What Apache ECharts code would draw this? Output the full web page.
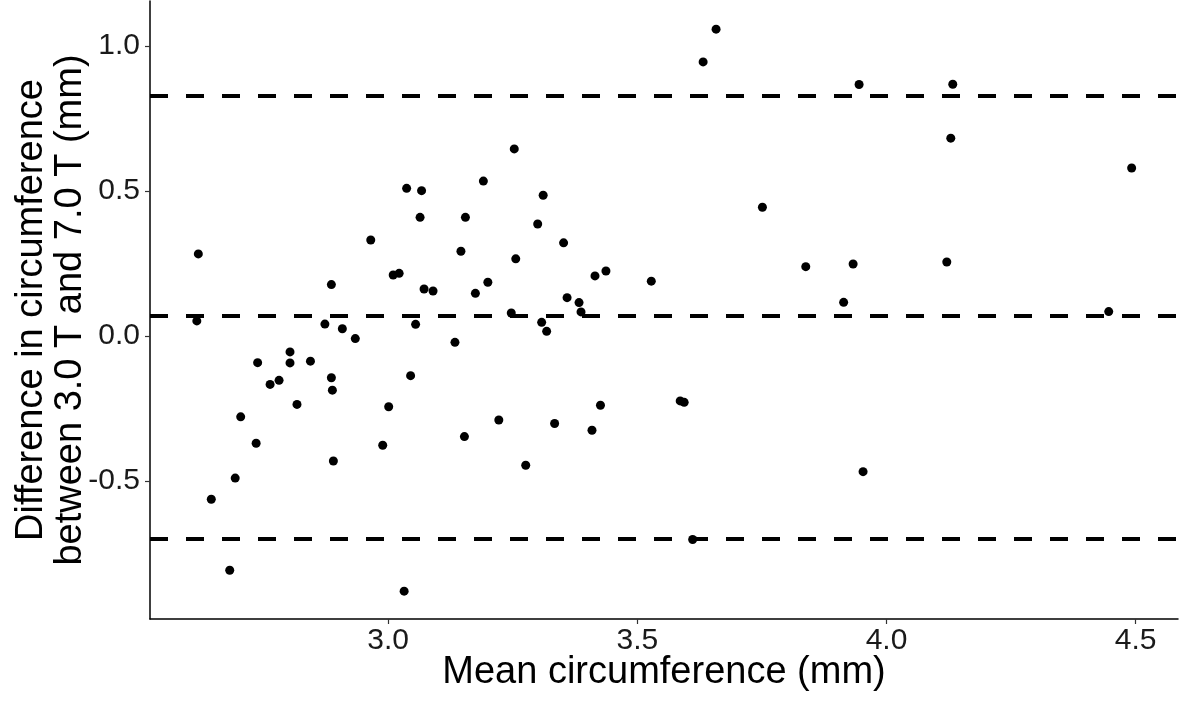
<!DOCTYPE html>
<html>
<head>
<meta charset="utf-8">
<script src="https://cdn.jsdelivr.net/npm/echarts@6/dist/echarts.min.js"></script>
<style>
  html, body { margin: 0; padding: 0; background: #ffffff; }
  #chart { width: 1181px; height: 703px; }
</style>
</head>
<body>
<div id="chart"></div>
<script>
// Mean circumference (mm)
const meanCirc = [
  2.619, 2.616, 2.645, 2.693, 2.682, 2.704, 2.735, 2.738, 2.763, 2.781,
  2.803, 2.803, 2.817, 2.844, 2.873, 2.886, 2.886, 2.888, 2.890, 2.908,
  2.934, 2.965, 2.989, 3.001, 3.010, 3.022, 3.032, 3.037, 3.045, 3.055,
  3.067, 3.064, 3.072, 3.090, 3.134, 3.146, 3.153, 3.155, 3.175, 3.191,
  3.200, 3.222, 3.247, 3.253, 3.256, 3.276, 3.300, 3.308, 3.311, 3.318,
  3.334, 3.352, 3.359, 3.383, 3.387, 3.409, 3.415, 3.426, 3.437, 3.528,
  3.586, 3.594, 3.611, 3.632, 3.658, 3.751, 3.838, 3.914, 3.933, 3.945,
  3.953, 4.121, 4.129, 4.133, 4.446, 4.492
];
// Difference in circumference between 3.0 T and 7.0 T (mm)
const diffCirc = [
  0.283, 0.052, -0.563, -0.490, -0.808, -0.279, -0.370, -0.092, -0.167, -0.153,
  -0.055, -0.093, -0.236, -0.087, 0.041, 0.177, -0.144, -0.187, -0.431, 0.025,
  -0.009, 0.331, -0.377, -0.244, 0.210, 0.216, -0.880, 0.509, -0.137, 0.040,
  0.501, 0.409, 0.162, 0.155, -0.022, 0.292, -0.347, 0.409, 0.147, 0.534,
  0.185, -0.290, 0.079, 0.645, 0.266, -0.446, 0.386, 0.047, 0.485, 0.016,
  -0.302, 0.321, 0.132, 0.115, 0.083, -0.325, 0.207, -0.239, 0.224, 0.189,
  -0.224, -0.229, -0.702, 0.945, 1.058, 0.444, 0.239, 0.116, 0.248, 0.867,
  -0.468, 0.255, 0.682, 0.868, 0.084, 0.579
];
// Upper limit of agreement, mean difference, lower limit of agreement
const agreementLines = [0.831, 0.065, -0.702];
const xTicks = [3.0, 3.5, 4.0, 4.5];
const yTicks = [-0.5, 0.0, 0.5, 1.0];

const points = meanCirc.map((x, i) => [x, diffCirc[i]]);

const chart = echarts.init(document.getElementById('chart'), null, { renderer: 'canvas' });
const FONT = '"Liberation Sans", Arial, sans-serif';

chart.setOption({
  animation: false,
  backgroundColor: '#ffffff',
  grid: { left: 150, right: 3, top: 1, bottom: 84, containLabel: false, outerBoundsMode: 'none' },
  xAxis: {
    type: 'value',
    min: 2.522,
    max: 4.585,
    name: 'Mean circumference (mm)',
    nameLocation: 'middle',
    nameGap: 35,
    nameMoveOverlap: false,
    nameTextStyle: { fontFamily: FONT, fontSize: 38, color: '#000000' },
    axisLine: { show: true, onZero: false, lineStyle: { color: '#000000', width: 1.5 } },
    axisTick: { show: true, length: 5, customValues: xTicks, lineStyle: { color: '#333333', width: 1.2 } },
    axisLabel: {
      customValues: xTicks,
      margin: 7,
      fontFamily: FONT,
      fontSize: 30,
      color: '#1a1a1a',
      formatter: v => v.toFixed(1)
    },
    splitLine: { show: false }
  },
  yAxis: {
    type: 'value',
    min: -0.976,
    max: 1.155,
    name: 'Difference in circumference\nbetween 3.0 T and 7.0 T (mm)',
    nameLocation: 'middle',
    nameRotate: 90,
    nameGap: 60,
    nameMoveOverlap: false,
    nameTextStyle: { fontFamily: FONT, fontSize: 38, color: '#000000', lineHeight: 39, align: 'center' },
    axisLine: { show: true, lineStyle: { color: '#000000', width: 1.5 } },
    axisTick: { show: true, length: 5, customValues: yTicks, lineStyle: { color: '#333333', width: 1.2 } },
    axisLabel: {
      customValues: yTicks,
      margin: 10,
      fontFamily: FONT,
      fontSize: 30,
      color: '#1a1a1a',
      formatter: v => v.toFixed(1)
    },
    splitLine: { show: false }
  },
  series: [
    {
      type: 'scatter',
      data: points,
      symbol: 'circle',
      symbolSize: 9,
      itemStyle: { color: '#000000', opacity: 1 },
      markLine: {
        silent: true,
        symbol: ['none', 'none'],
        label: { show: false },
        lineStyle: { color: '#000000', width: 4, type: [18, 18] },
        data: agreementLines.map(v => ({ yAxis: v }))
      }
    }
  ]
});
</script>
</body>
</html>
